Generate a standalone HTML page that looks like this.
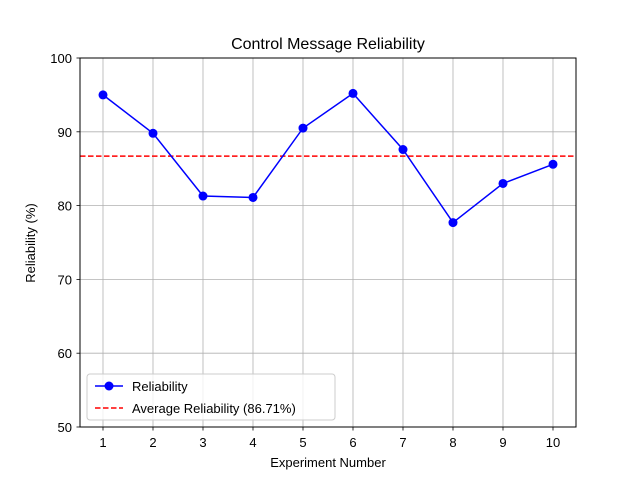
<!DOCTYPE html>
<html><head><meta charset="utf-8"><style>
body{margin:0;background:#fff;}
svg text{font-family:"Liberation Sans","DejaVu Sans",sans-serif;fill:#000;}
</style></head><body>
<svg id="chart" width="640" height="480" viewBox="0 0 640 480" xmlns="http://www.w3.org/2000/svg">
<rect width="640" height="480" fill="#fff"/>
<g id="grid"></g>
<g id="marks"></g>
<rect x="80" y="58" width="496" height="369" fill="none" stroke="#000" stroke-width="1"/>
<g id="axes"></g>
<text x="328" y="49" font-size="16" text-anchor="middle">Control Message Reliability</text>
<text x="328" y="467" font-size="13" text-anchor="middle">Experiment Number</text>
<text transform="translate(35,243) rotate(-90)" font-size="13" text-anchor="middle">Reliability (%)</text>
<g>
<rect x="87" y="374" width="248" height="46" rx="3" fill="#fff" fill-opacity="0.8" stroke="#ccc"/>
<g>
<line x1="95" y1="386" x2="123" y2="386" stroke="#0000ff" stroke-width="1.5"/>
<circle cx="109" cy="386" r="4.5" fill="#0000ff"/>
<text x="132" y="391" font-size="13">Reliability</text>
</g>
<g>
<line x1="95" y1="408" x2="123" y2="408" stroke="#ff0000" stroke-width="1.5" stroke-dasharray="5.5,2.5"/>
<text x="132" y="413" font-size="13">Average Reliability (86.71%)</text>
</g>
</g>
</svg>
<script>
const categories=[1,2,3,4,5,6,7,8,9,10];
const reliability=[95.0,89.8,81.3,81.1,90.5,95.2,87.6,77.7,83.0,85.6];
const averageValue=86.71;
const yTicks=[50,60,70,80,90,100];
const NS="http://www.w3.org/2000/svg";
function xs(v){return 103+(v-1)*50;}
function ys(v){return 427-(v-50)*(369/50);}
function mk(tag,attrs,parent){const e=document.createElementNS(NS,tag);for(const k in attrs)e.setAttribute(k,attrs[k]);parent.appendChild(e);return e;}
const grid=document.getElementById('grid'),axes=document.getElementById('axes'),marks=document.getElementById('marks');
categories.forEach(c=>{
  const x=xs(c);
  const g=mk('line',{x1:x,y1:58,x2:x,y2:427,stroke:'#b0b0b0','stroke-width':0.8},grid);
  
  
  mk('line',{x1:x,y1:427,x2:x,y2:430.5,stroke:'#000','stroke-width':0.8},axes);
  const t=mk('text',{x:x,y:447,'font-size':13,'text-anchor':'middle'},axes);
  t.textContent=c;
  
  
});
yTicks.forEach(v=>{
  const y=ys(v);
  const g=mk('line',{x1:80,y1:y,x2:576,y2:y,stroke:'#b0b0b0','stroke-width':0.8},grid);
  
  
  mk('line',{x1:76.5,y1:y,x2:80,y2:y,stroke:'#000','stroke-width':0.8},axes);
  const t=mk('text',{x:72,y:y+5,'font-size':13,'text-anchor':'end'},axes);
  t.textContent=v;
  
  
});
const avg=mk('line',{x1:80,y1:ys(averageValue),x2:576,y2:ys(averageValue),stroke:'#ff0000','stroke-width':1.5,'stroke-dasharray':'5.5,2.5'},marks);


const pts=categories.map((c,i)=>xs(c)+','+ys(reliability[i])).join(' ');
const line=mk('polyline',{points:pts,fill:'none',stroke:'#0000ff','stroke-width':1.5},marks);


categories.forEach((c,i)=>{
  const p=mk('circle',{cx:xs(c),cy:ys(reliability[i]),r:4.5,fill:'#0000ff'},marks);
  
  
});
</script>
</body></html>
